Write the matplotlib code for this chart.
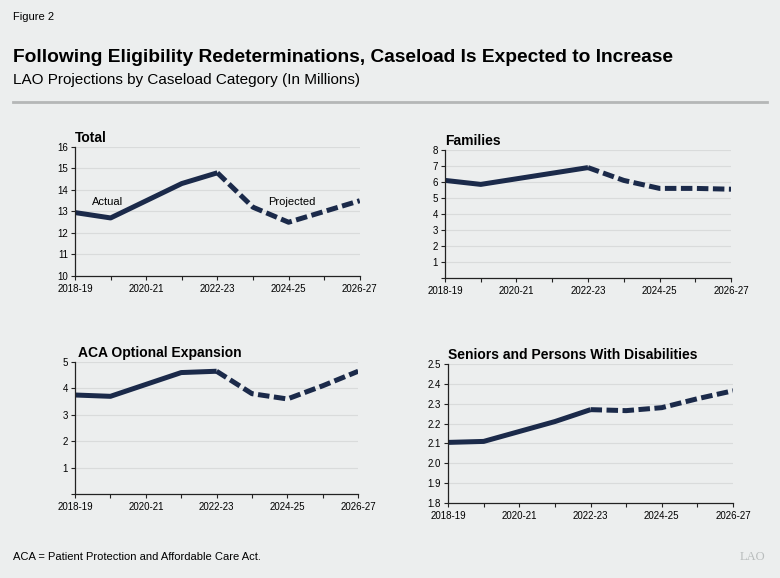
import matplotlib.pyplot as plt

years = ["2018-19", "2019-20", "2020-21", "2021-22", "2022-23",
         "2023-24", "2024-25", "2025-26", "2026-27"]
total = [12.95, 12.7, 13.5, 14.3, 14.8, 13.2, 12.5, 13.0, 13.5]
families = [6.1, 5.85, 6.2, 6.55, 6.9, 6.1, 5.6, 5.6, 5.55]
aca = [3.75, 3.7, 4.15, 4.6, 4.65, 3.8, 3.6, 4.1, 4.65]
seniors = [2.105, 2.11, 2.16, 2.21, 2.27, 2.265, 2.28, 2.325, 2.365]
last_actual = 4  # 2022-23 is last actual year

bg = "#eceeee"
navy = "#1b2a4a"
plt.rcParams["font.family"] = ["Liberation Sans", "DejaVu Sans"]

fig = plt.figure(figsize=(7.8, 5.78), dpi=100, facecolor=bg)


def panel(rect, values, title, ylim, yticks, ylabels, fmt, title_dx=0.0):
    ax = fig.add_axes(rect)
    ax.set_facecolor(bg)
    x = list(range(len(values)))
    ax.plot(x[:last_actual + 1], values[:last_actual + 1], color=navy,
            lw=3.6, solid_capstyle="butt", solid_joinstyle="round")
    ax.plot(x[last_actual:], values[last_actual:], color=navy, lw=3.6,
            dashes=(2.3, 0.9), dash_capstyle="butt")
    ax.set_xlim(0, len(values) - 1)
    ax.set_ylim(*ylim)
    ax.set_yticks(yticks)
    ax.set_yticklabels([fmt.format(v) if v in ylabels else "" for v in yticks])
    ax.set_xticks(x)
    ax.set_xticklabels([y if i % 2 == 0 else "" for i, y in enumerate(years)])
    for v in yticks:
        if v > ylim[0]:
            ax.axhline(v, color="#d9dbdb", lw=0.8, zorder=0)
    for s in ["top", "right"]:
        ax.spines[s].set_visible(False)
    for s in ["left", "bottom"]:
        ax.spines[s].set_color("#222222")
        ax.spines[s].set_linewidth(0.9)
    ax.tick_params(axis="both", labelsize=7, length=3, width=0.8,
                   color="#222222", pad=3)
    ax.tick_params(axis="y", pad=2)
    ax.text(title_dx, 1.015, title, transform=ax.transAxes, fontsize=10,
            fontweight="bold", ha="left", va="bottom")
    return ax


ax1 = panel([0.0962, 0.5225, 0.365, 0.2232], total, "Total", (10, 16),
            range(10, 17), range(10, 17), "{}")
ax1.text(0.9, 13.45, "Actual", fontsize=8, ha="center", va="center")
ax1.text(6.1, 13.45, "Projected", fontsize=8, ha="center", va="center")

panel([0.5705, 0.519, 0.3667, 0.2215], families, "Families", (0, 8),
      range(0, 9), range(1, 9), "{}")
panel([0.0962, 0.1453, 0.363, 0.2284], aca, "ACA Optional Expansion", (0, 5),
      range(0, 6), range(1, 6), "{}", title_dx=0.01)
s_ticks = [1.8, 1.9, 2.0, 2.1, 2.2, 2.3, 2.4, 2.5]
panel([0.5744, 0.1298, 0.3654, 0.2405], seniors,
      "Seniors and Persons With Disabilities", (1.8, 2.5),
      s_ticks, s_ticks, "{:.1f}")

fig.text(13 / 780, 1 - 17 / 578, "Figure 2", fontsize=8, va="center")
fig.text(13 / 780, 1 - 57 / 578,
         "Following Eligibility Redeterminations, Caseload Is Expected to Increase",
         fontsize=13.8, fontweight="bold", va="center")
fig.text(13 / 780, 1 - 80 / 578, "LAO Projections by Caseload Category (In Millions)",
         fontsize=11, va="center")
fig.add_artist(plt.Line2D([13 / 780, 767 / 780], [1 - 102 / 578, 1 - 102 / 578],
                          color="#b5b7b7", lw=2, transform=fig.transFigure))
fig.text(13 / 780, 1 - 557 / 578, "ACA = Patient Protection and Affordable Care Act.",
         fontsize=8, va="center")
fig.text(765 / 780, 1 - 557 / 578, "LAO", fontsize=9, color="#b8bcbc",
         ha="right", va="center", family=["Liberation Serif", "DejaVu Serif"])

fig.savefig("out.png", dpi=100, facecolor=bg)
